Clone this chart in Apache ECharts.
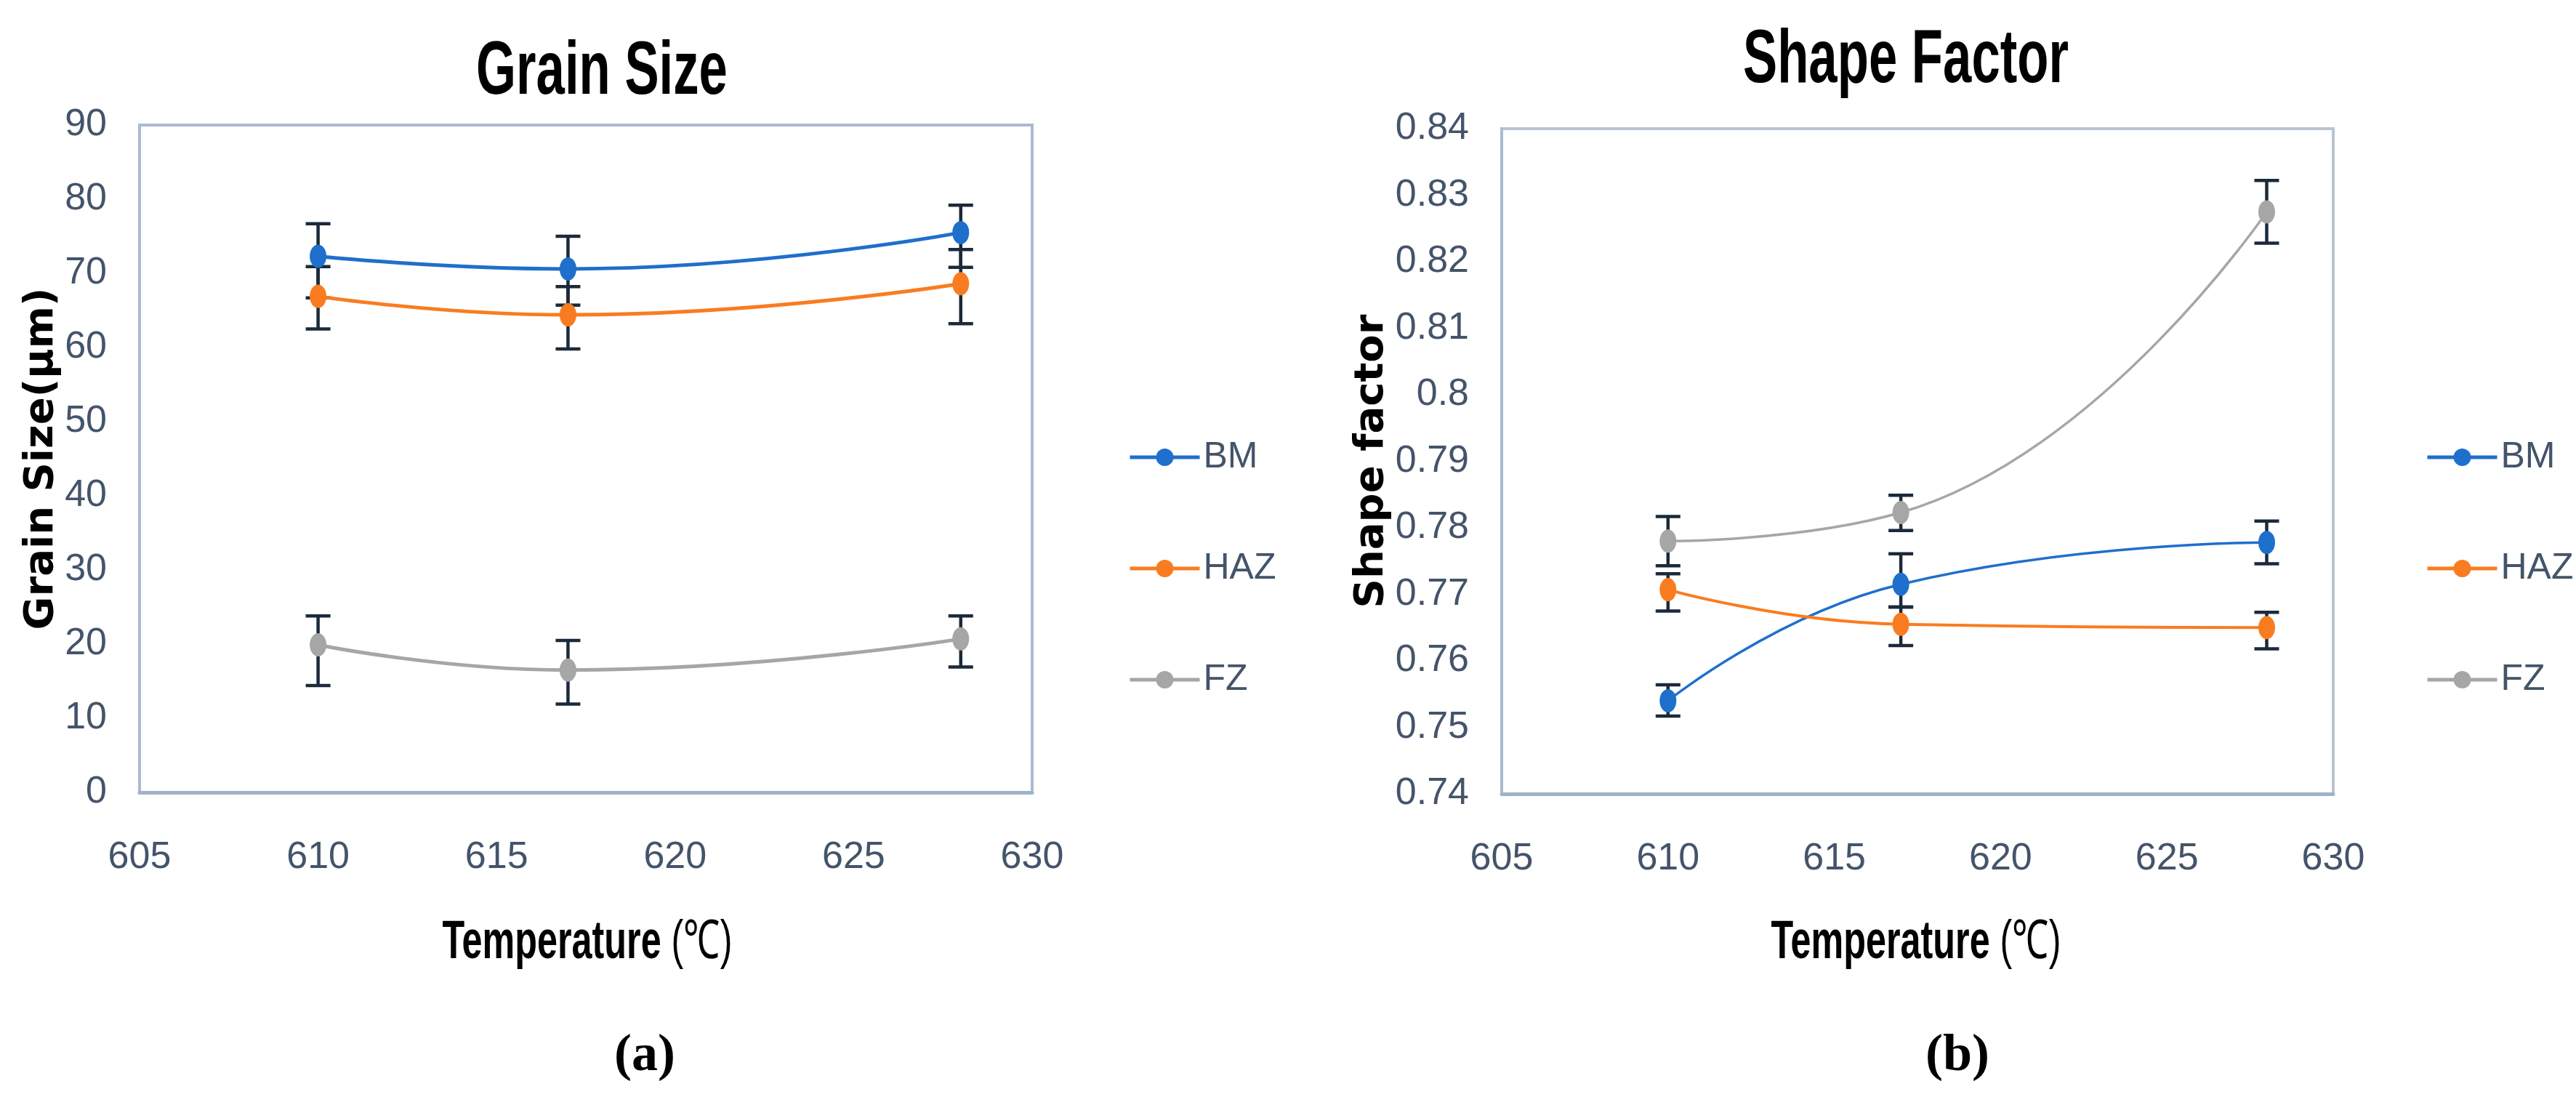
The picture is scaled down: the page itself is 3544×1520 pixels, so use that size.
<!DOCTYPE html>
<html>
<head>
<meta charset="utf-8">
<script src="https://cdn.jsdelivr.net/npm/echarts@6/dist/echarts.min.js"></script>
<style>
  html, body { margin: 0; padding: 0; background: #fff; }
  #chart { width: 3544px; height: 1520px; }
</style>
</head>
<body>
<div id="chart"></div>
<script>
// temperatures (x) shared by both panels
var temps = [610, 617, 628];
var seriesNames = ['BM', 'HAZ', 'FZ'];

// (a) grain size, um
var grainBM = [72.3, 70.6, 75.5];
var grainHAZ = [66.9, 64.4, 68.6];
var grainFZ = [19.9, 16.5, 20.7];
var grainBMBars = [[66.7, 76.7], [65.7, 75.0], [70.8, 79.2]];
var grainHAZBars = [[62.5, 70.9], [59.8, 68.2], [63.2, 73.2]];
var grainFZBars = [[14.4, 23.8], [11.9, 20.5], [16.9, 23.8]];

// (b) shape factor
var shapeBM = [0.754, 0.7715, 0.7778];
var shapeHAZ = [0.7707, 0.7655, 0.765];
var shapeFZ = [0.778, 0.7823, 0.8275];
var shapeBMBars = [[0.7517, 0.7564], [0.7681, 0.7761], [0.7746, 0.781]];
var shapeHAZBars = [[0.7675, 0.7731], [0.7623, 0.7681], [0.7618, 0.7673]];
var shapeFZBars = [[0.7743, 0.7817], [0.7796, 0.7849], [0.8228, 0.8322]];

// axis ranges [min, max, step]
var tempTicks = [605, 630, 5];
var grainTicks = [0, 90, 10];
var shapeTicks = [0.74, 0.84, 0.01];

var colors = ['#1f6fcc', '#f97c20', '#a6a6a6'];
var narrow = "'Liberation Sans Narrow', 'Arial Narrow', 'Liberation Sans', sans-serif";
var labelColor = '#44546a';

function lineSeries(name, idx, vals, color, width) {
  return {
    name: name,
    type: 'line',
    xAxisIndex: idx,
    yAxisIndex: idx,
    data: temps.map(function (t, i) { return [t, vals[i]]; }),
    smooth: 0.5,
    symbol: 'circle',
    symbolSize: [23, 32],
    lineStyle: { color: color, width: width },
    itemStyle: { color: color },
    z: 3
  };
}

function errSeries(name, idx, bars) {
  return {
    name: name + ' error',
    type: 'custom',
    xAxisIndex: idx,
    yAxisIndex: idx,
    silent: true,
    z: 2,
    data: temps.map(function (t, i) { return [t, bars[i][0], bars[i][1]]; }),
    encode: { x: 0, y: [1, 2] },
    renderItem: function (params, api) {
      var lo = api.coord([api.value(0), api.value(1)]);
      var hi = api.coord([api.value(0), api.value(2)]);
      var half = 17;
      var st = { stroke: '#1b2a3a', lineWidth: 4.5 };
      return {
        type: 'group',
        children: [
          { type: 'line', shape: { x1: lo[0], y1: lo[1], x2: hi[0], y2: hi[1] }, style: st },
          { type: 'line', shape: { x1: lo[0] - half, y1: lo[1], x2: lo[0] + half, y2: lo[1] }, style: st },
          { type: 'line', shape: { x1: hi[0] - half, y1: hi[1], x2: hi[0] + half, y2: hi[1] }, style: st }
        ]
      };
    }
  };
}

function xAxisOf(idx) {
  return {
    gridIndex: idx,
    type: 'value',
    min: tempTicks[0],
    max: tempTicks[1],
    interval: tempTicks[2],
    axisLine: { show: true, lineStyle: { color: '#9fb2c8', width: 5 } },
    axisTick: { show: false },
    splitLine: { show: false },
    axisLabel: { margin: 64, fontFamily: narrow, fontSize: 52, color: labelColor }
  };
}

function yAxisOf(idx, ticks, name, gap) {
  return {
    gridIndex: idx,
    type: 'value',
    min: ticks[0],
    max: ticks[1],
    interval: ticks[2],
    name: name,
    nameLocation: 'middle',
    nameGap: gap,
    nameTextStyle: { fontFamily: "'DejaVu Sans', sans-serif", fontWeight: 'bold', fontSize: 56, color: '#000' },
    axisLine: { show: true, lineStyle: { color: '#aabbd0', width: 4 } },
    axisTick: { show: false },
    splitLine: { show: false },
    axisLabel: { margin: 45, fontFamily: narrow, fontSize: 52, color: labelColor, padding: [16, 0, 0, 0] }
  };
}

function legendOf(left) {
  return {
    data: seriesNames,
    orient: 'vertical',
    left: left,
    top: 590,
    itemWidth: 96,
    itemHeight: 30,
    itemGap: 85,
    lineStyle: { width: 5 },
    textStyle: { fontFamily: narrow, fontSize: 50, color: labelColor, lineHeight: 60, padding: [8, 0, 0, 0] }
  };
}

function freeText(text, x, y, font, sx) {
  return {
    type: 'text',
    x: x,
    y: y,
    scaleX: sx,
    style: { text: text, font: font, fill: '#000', textAlign: 'center', textVerticalAlign: 'middle' }
  };
}

function tempName(x) {
  return {
    type: 'text',
    x: x,
    y: 1298,
    scaleX: 0.68,
    style: {
      text: '{b|Temperature }{n|(℃)}',
      textAlign: 'center',
      textVerticalAlign: 'middle',
      rich: {
        b: { font: 'bold 74px "Liberation Sans", sans-serif', fill: '#000' },
        n: { font: '74px "Liberation Sans", sans-serif', fill: '#000' }
      }
    }
  };
}

var chart = echarts.init(document.getElementById('chart'), null, { renderer: 'canvas' });

var option = {
  backgroundColor: '#fff',
  animation: false,
  grid: [
    { left: 192, top: 172, width: 1228, height: 918, show: true, borderColor: '#aabbd0', borderWidth: 4 },
    { left: 2066, top: 177, width: 1144, height: 915, show: true, borderColor: '#b9c3cf', borderWidth: 4 }
  ],
  xAxis: [xAxisOf(0), xAxisOf(1)],
  yAxis: [
    yAxisOf(0, grainTicks, 'Grain Size(μm)', 104),
    yAxisOf(1, shapeTicks, 'Shape factor', 122)
  ],
  legend: [legendOf(1547), legendOf(3332)],
  graphic: [
    freeText('Grain Size', 828, 100, 'bold 104px "Liberation Sans", sans-serif', 0.68),
    freeText('Shape Factor', 2622, 84, 'bold 104px "Liberation Sans", sans-serif', 0.68),
    tempName(808),
    tempName(2636),
    {
      type: 'text', x: 887, y: 1453,
      style: { text: '(a)', font: 'bold 72px "Liberation Serif", serif', fill: '#000', textAlign: 'center', textVerticalAlign: 'middle' }
    },
    {
      type: 'text', x: 2693, y: 1453,
      style: { text: '(b)', font: 'bold 72px "Liberation Serif", serif', fill: '#000', textAlign: 'center', textVerticalAlign: 'middle' }
    }
  ],
  series: [
    errSeries('BM', 0, grainBMBars),
    errSeries('HAZ', 0, grainHAZBars),
    errSeries('FZ', 0, grainFZBars),
    lineSeries('BM', 0, grainBM, colors[0], 5),
    lineSeries('HAZ', 0, grainHAZ, colors[1], 5),
    lineSeries('FZ', 0, grainFZ, colors[2], 5),
    errSeries('BM', 1, shapeBMBars),
    errSeries('HAZ', 1, shapeHAZBars),
    errSeries('FZ', 1, shapeFZBars),
    lineSeries('BM', 1, shapeBM, colors[0], 3.5),
    lineSeries('HAZ', 1, shapeHAZ, colors[1], 4),
    lineSeries('FZ', 1, shapeFZ, colors[2], 3.5)
  ]
};

chart.setOption(option);

window.addEventListener('resize', function () {
  chart.resize();
});
</script>
</body>
</html>
